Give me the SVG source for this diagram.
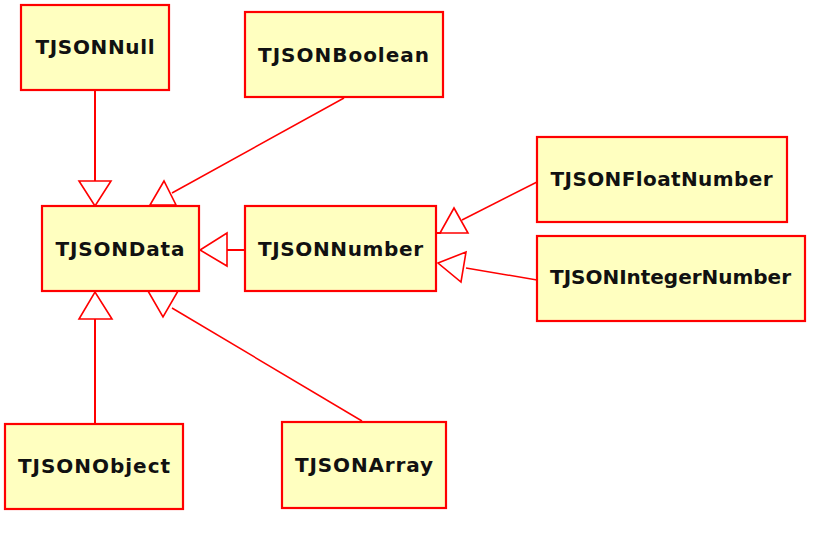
<svg xmlns="http://www.w3.org/2000/svg" width="814" height="545" viewBox="0 0 814 545">
<style>
.box{fill:#FFFFC0;stroke:#FF0000;stroke-width:2.2}
.lbl{font-family:"DejaVu Sans",Verdana,sans-serif;font-weight:bold;font-size:20px;fill:#111;text-anchor:middle}
.ln{stroke:#FF0000;stroke-width:2;fill:none}
.dl{stroke:#FF0000;stroke-width:1.5;fill:none}
.tri{stroke:#FF0000;stroke-width:1.6;fill:#FFFFFF}
</style>
<rect width="814" height="545" fill="#FFFFFF"/>
<g id="connectors">
<line class="ln" x1="95" y1="90" x2="95" y2="181"/>
<polygon class="tri" points="79,181 111,181 95,206"/>
<line class="dl" x1="344" y1="98" x2="172" y2="193"/>
<polygon class="tri" points="164,181 150,205 176,205"/>
<line class="ln" x1="245" y1="250" x2="227" y2="250"/>
<polygon class="tri" points="227,233 227,266 200,250"/>
<line class="dl" x1="537" y1="182" x2="462" y2="220"/>
<polygon class="tri" points="454,208 440,233 468,233"/>
<line class="ln" x1="436" y1="233" x2="441" y2="233"/>
<line class="dl" x1="537" y1="280" x2="466" y2="268"/>
<polygon class="tri" points="438,263 466,252 461,282"/>
<line class="ln" x1="95" y1="424" x2="95" y2="319"/>
<polygon class="tri" points="79,319 112,319 95,292"/>
<line class="dl" x1="362" y1="421" x2="172" y2="308"/>
<polygon class="tri" points="148,291 178,291 163,317"/>
</g>
<g id="TJSONNull"><rect class="box" x="21" y="5" width="148" height="85"/><text class="lbl" x="95" y="54" textLength="119" lengthAdjust="spacing">TJSONNull</text></g>
<g id="TJSONBoolean"><rect class="box" x="245" y="12" width="198" height="85"/><text class="lbl" x="343.5" y="61.5" textLength="171" lengthAdjust="spacing">TJSONBoolean</text></g>
<g id="TJSONData"><rect class="box" x="42" y="206" width="157" height="85"/><text class="lbl" x="120" y="255.5" textLength="129" lengthAdjust="spacing">TJSONData</text></g>
<g id="TJSONNumber"><rect class="box" x="245" y="206" width="191" height="85"/><text class="lbl" x="340.5" y="255.5" textLength="165" lengthAdjust="spacing">TJSONNumber</text></g>
<g id="TJSONFloatNumber"><rect class="box" x="537" y="137" width="250" height="85"/><text class="lbl" x="661.5" y="185.5" textLength="222" lengthAdjust="spacing">TJSONFloatNumber</text></g>
<g id="TJSONIntegerNumber"><rect class="box" x="537" y="236" width="268" height="85"/><text class="lbl" x="670.5" y="284.3" textLength="241" lengthAdjust="spacing">TJSONIntegerNumber</text></g>
<g id="TJSONObject"><rect class="box" x="5" y="424" width="178" height="85"/><text class="lbl" x="94" y="473.3" textLength="152" lengthAdjust="spacing">TJSONObject</text></g>
<g id="TJSONArray"><rect class="box" x="282" y="422" width="164" height="86"/><text class="lbl" x="364" y="471.7" textLength="138" lengthAdjust="spacing">TJSONArray</text></g>
</svg>
